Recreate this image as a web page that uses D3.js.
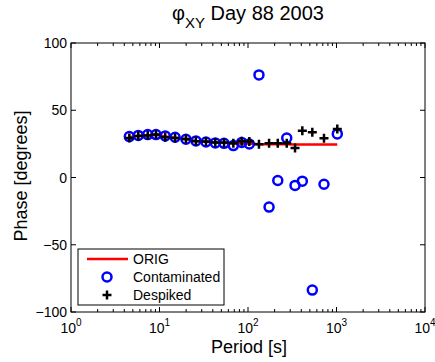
<!DOCTYPE html>
<html>
<head>
<meta charset="utf-8">
<script src="https://cdn.jsdelivr.net/npm/d3@7"></script>
<style>
  body { margin: 0; background: #fff; }
  svg { font-family: "Liberation Sans", Arial, sans-serif; }
</style>
</head>
<body>
<svg id="chart" width="435" height="362"></svg>
<script>
// periods [s]
var periods = [4.56, 5.76, 7.36, 9.13, 11.6, 15.0, 19.9, 25.8, 33.5, 42.7, 53.6, 68.3, 84.9, 103.5,
  133, 173, 217, 274, 340, 411, 533, 722, 1021];
var origPhase = [30.0, 31.0, 31.5, 31.8, 30.5, 29.6, 28.5, 27.1, 26.6, 26.0, 25.8, 25.2, 25.4, 25.2,
  24.8, 24.8, 24.7, 24.7, 24.6, 24.6, 24.5, 24.5, 24.5];
var contaminated = [30.4, 31.3, 31.9, 31.9, 30.9, 29.9, 28.4, 27.2, 26.4, 25.7, 25.4, 23.7, 26.1, 24.9,
  76.3, -22.0, -2.2, 29.4, -5.9, -2.7, -83.7, -5.0, 32.4];
var despiked = [29.4, 30.9, 31.3, 31.9, 29.9, 29.4, 28.6, 26.9, 26.7, 26.1, 26.1, 25.4, 26.9, 26.7,
  24.7, 25.4, 25.4, 25.4, 22.0, 34.8, 33.6, 29.1, 36.1];
var yTicks = [-100, -50, 0, 50, 100];
var xTicks = [1, 10, 100, 1000, 10000];

var svg = d3.select("#chart"),
    margin = {top: 43, right: 10, bottom: 50, left: 71},
    width = 435 - margin.left - margin.right,
    height = 362 - margin.top - margin.bottom,
    g = svg.append("g").attr("transform", "translate(" + margin.left + "," + margin.top + ")");

var x = d3.scaleLog().domain([1, 10000]).range([0, width]),
    y = d3.scaleLinear().domain([-100, 100]).range([height, 0]);

// minor log ticks
var minor = [];
for (var e = 0; e < 4; e++) for (var k = 2; k <= 9; k++) minor.push(k * Math.pow(10, e));

// frame + ticks (inward, matlab style)
g.append("rect").attr("width", width).attr("height", height)
  .attr("fill", "none").attr("stroke", "#000").attr("stroke-width", 1);

var tk = g.append("g").attr("stroke", "#000").attr("stroke-width", 1);
xTicks.concat(minor).forEach(function(v) {
  var len = xTicks.indexOf(v) >= 0 ? 5 : 3;
  tk.append("line").attr("x1", x(v)).attr("x2", x(v)).attr("y1", height).attr("y2", height - len);
  tk.append("line").attr("x1", x(v)).attr("x2", x(v)).attr("y1", 0).attr("y2", len);
});
yTicks.forEach(function(v) {
  tk.append("line").attr("x1", 0).attr("x2", 5).attr("y1", y(v)).attr("y2", y(v));
  tk.append("line").attr("x1", width).attr("x2", width - 5).attr("y1", y(v)).attr("y2", y(v));
});

// tick labels
g.selectAll(".ylab").data(yTicks).enter().append("text")
  .attr("x", -4).attr("y", function(d) { return y(d) + 5; })
  .attr("text-anchor", "end").style("font-size", "14px")
  .text(function(d) { return d < 0 ? "\u2212" + Math.abs(d) : d; });

var xl = g.selectAll(".xlab").data(xTicks).enter().append("text")
  .attr("x", function(d) { return x(d); }).attr("y", height + 21)
  .attr("text-anchor", "middle").style("font-size", "14px");
xl.append("tspan").text("10");
xl.append("tspan").attr("dy", -7).style("font-size", "10px")
  .text(function(d) { return Math.round(Math.log10(d)); });

// ORIG line
var line = d3.line().x(function(d, i) { return x(periods[i]); }).y(function(d) { return y(d); });
g.append("path").datum(origPhase).attr("d", line)
  .attr("fill", "none").attr("stroke", "#ff0000").attr("stroke-width", 2.5);

// contaminated circles
g.selectAll(".cont").data(contaminated).enter().append("circle")
  .attr("cx", function(d, i) { return x(periods[i]); })
  .attr("cy", function(d) { return y(d); })
  .attr("r", 4.5).attr("fill", "none").attr("stroke", "#0000ff").attr("stroke-width", 2.5);

// despiked plus
var plus = function(s) { return "M" + (-s) + ",0H" + s + "M0," + (-s) + "V" + s; };
g.selectAll(".desp").data(despiked).enter().append("path")
  .attr("transform", function(d, i) { return "translate(" + x(periods[i]) + "," + y(d) + ")"; })
  .attr("d", plus(4.5)).attr("stroke", "#000").attr("stroke-width", 2.5);

// legend
var lg = svg.append("g").attr("transform", "translate(78,249)");
lg.append("rect").attr("width", 146).attr("height", 56)
  .attr("fill", "#fff").attr("stroke", "#000").attr("stroke-width", 1);
lg.append("line").attr("x1", 9).attr("x2", 50).attr("y1", 10).attr("y2", 10)
  .attr("stroke", "#ff0000").attr("stroke-width", 2.5);
lg.append("circle").attr("cx", 29).attr("cy", 28).attr("r", 4.5)
  .attr("fill", "none").attr("stroke", "#0000ff").attr("stroke-width", 2.5);
lg.append("path").attr("transform", "translate(29,46)").attr("d", plus(4.5))
  .attr("stroke", "#000").attr("stroke-width", 2.5);
var legendNames = ["ORIG", "Contaminated", "Despiked"];
lg.selectAll(".lt").data(legendNames).enter().append("text")
  .attr("x", 55).attr("y", function(d, i) { return 15 + i * 18; })
  .style("font-size", "14px").text(function(d) { return d; });

// title
var title = svg.append("text").attr("x", 248).attr("y", 20)
  .attr("text-anchor", "middle").style("font-size", "20px");
title.append("tspan").text("\u03c6");
title.append("tspan").attr("dy", 8).style("font-size", "15px").text("XY");
title.append("tspan").attr("dy", -8).text(" Day 88 2003");

// axis labels
svg.append("text").attr("x", 249).attr("y", 353).attr("text-anchor", "middle")
  .style("font-size", "18px").text("Period [s]");
svg.append("text").attr("transform", "translate(27,176) rotate(-90)").attr("text-anchor", "middle")
  .style("font-size", "18px").text("Phase [degrees]");
</script>
</body>
</html>
